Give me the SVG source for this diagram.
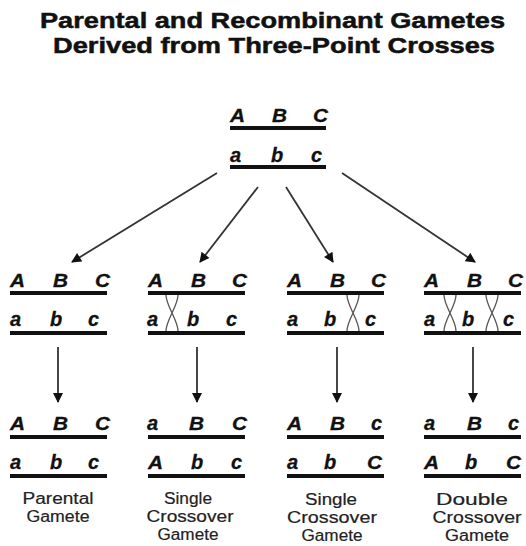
<svg xmlns="http://www.w3.org/2000/svg" width="526" height="546" viewBox="0 0 526 546">
<defs>
<style>
.title{font-family:"Liberation Sans",Arial,sans-serif;font-weight:bold;font-size:22px;fill:#111;stroke:#111;stroke-width:0.5}
.al{font-family:"Liberation Sans",Arial,sans-serif;font-weight:bold;font-style:italic;font-size:18px;fill:#111;stroke:#111;stroke-width:0.3}
.lo{font-size:20px}
.lbl{font-family:"Liberation Sans",Arial,sans-serif;font-size:16px;fill:#222;text-anchor:middle;stroke:#222;stroke-width:0.2}
.chr{stroke:#111;stroke-width:4;fill:none}
.co{stroke:#555;stroke-width:1.3;fill:none}
.arr{stroke:#333;stroke-width:1.8;fill:none;marker-end:url(#ah)}
</style>
<marker id="ah" viewBox="0 0 10 10" refX="9" refY="5" markerWidth="12" markerHeight="10" markerUnits="userSpaceOnUse" orient="auto">
<path d="M0,0 L10,5 L0,10 z" fill="#111"/>
</marker>
</defs>
<rect width="526" height="546" fill="#fff"/>
<g id="title">
<text class="title" x="40" y="28" textLength="465" lengthAdjust="spacingAndGlyphs">Parental and Recombinant Gametes</text>
<text class="title" x="53" y="53" textLength="442" lengthAdjust="spacingAndGlyphs">Derived from Three-Point Crosses</text>
</g>
<g id="connectors">
<line class="arr" x1="217" y1="173" x2="72" y2="262"/>
<line class="arr" x1="258" y1="187" x2="200" y2="262"/>
<line class="arr" x1="286" y1="187" x2="333" y2="262"/>
<line class="arr" x1="342" y1="173" x2="475" y2="262"/>
<line class="arr" x1="58" y1="347" x2="58" y2="402"/>
<line class="arr" x1="197" y1="347" x2="197" y2="402"/>
<line class="arr" x1="337" y1="347" x2="337" y2="402"/>
<line class="arr" x1="473" y1="347" x2="473" y2="402"/>
</g>
<g id="parent">
<text class="al" x="230" y="122" textLength="15" lengthAdjust="spacingAndGlyphs">A</text>
<text class="al" x="272" y="122" textLength="15" lengthAdjust="spacingAndGlyphs">B</text>
<text class="al" x="313" y="122" textLength="15" lengthAdjust="spacingAndGlyphs">C</text>
<line class="chr" x1="230" y1="128" x2="326" y2="128"/>
<text class="al lo" x="230" y="162">a</text>
<text class="al lo" x="271" y="162">b</text>
<text class="al lo" x="311" y="162">c</text>
<line class="chr" x1="230" y1="167" x2="326" y2="167"/>
</g>
<g id="cross1">
<text class="al" x="10" y="287" textLength="15" lengthAdjust="spacingAndGlyphs">A</text>
<text class="al" x="53" y="287" textLength="15" lengthAdjust="spacingAndGlyphs">B</text>
<text class="al" x="95" y="287" textLength="15" lengthAdjust="spacingAndGlyphs">C</text>
<line class="chr" x1="10" y1="293" x2="107" y2="293"/>
<text class="al lo" x="10" y="326">a</text>
<text class="al lo" x="50" y="326">b</text>
<text class="al lo" x="88" y="326">c</text>
<line class="chr" x1="10" y1="333" x2="107" y2="333"/>
</g>
<g id="cross2">
<text class="al" x="148" y="287" textLength="15" lengthAdjust="spacingAndGlyphs">A</text>
<text class="al" x="191" y="287" textLength="15" lengthAdjust="spacingAndGlyphs">B</text>
<text class="al" x="232" y="287" textLength="15" lengthAdjust="spacingAndGlyphs">C</text>
<line class="chr" x1="148" y1="293" x2="245" y2="293"/>
<path class="co" d="M166,295 C166,306 178,320 178,331 M178,295 C178,306 166,320 166,331"/>
<text class="al lo" x="147" y="326">a</text>
<text class="al lo" x="187" y="326">b</text>
<text class="al lo" x="226" y="326">c</text>
<line class="chr" x1="148" y1="333" x2="245" y2="333"/>
</g>
<g id="cross3">
<text class="al" x="287" y="287" textLength="15" lengthAdjust="spacingAndGlyphs">A</text>
<text class="al" x="330" y="287" textLength="15" lengthAdjust="spacingAndGlyphs">B</text>
<text class="al" x="371" y="287" textLength="15" lengthAdjust="spacingAndGlyphs">C</text>
<line class="chr" x1="287" y1="293" x2="384" y2="293"/>
<path class="co" d="M347,295 C347,306 359,320 359,331 M359,295 C359,306 347,320 347,331"/>
<text class="al lo" x="287" y="326">a</text>
<text class="al lo" x="324" y="326">b</text>
<text class="al lo" x="365" y="326">c</text>
<line class="chr" x1="287" y1="333" x2="384" y2="333"/>
</g>
<g id="cross4">
<text class="al" x="424" y="287" textLength="15" lengthAdjust="spacingAndGlyphs">A</text>
<text class="al" x="467" y="287" textLength="15" lengthAdjust="spacingAndGlyphs">B</text>
<text class="al" x="508" y="287" textLength="15" lengthAdjust="spacingAndGlyphs">C</text>
<line class="chr" x1="424" y1="293" x2="521" y2="293"/>
<path class="co" d="M444,295 C444,306 456,320 456,331 M456,295 C456,306 444,320 444,331"/>
<path class="co" d="M486,295 C486,306 498,320 498,331 M498,295 C498,306 486,320 486,331"/>
<text class="al lo" x="424" y="326">a</text>
<text class="al lo" x="462" y="326">b</text>
<text class="al lo" x="503" y="326">c</text>
<line class="chr" x1="424" y1="333" x2="521" y2="333"/>
</g>
<g id="gamete1">
<text class="al" x="10" y="430" textLength="15" lengthAdjust="spacingAndGlyphs">A</text>
<text class="al" x="53" y="430" textLength="15" lengthAdjust="spacingAndGlyphs">B</text>
<text class="al" x="95" y="430" textLength="15" lengthAdjust="spacingAndGlyphs">C</text>
<line class="chr" x1="10" y1="437" x2="107" y2="437"/>
<text class="al lo" x="10" y="469">a</text>
<text class="al lo" x="50" y="469">b</text>
<text class="al lo" x="88" y="469">c</text>
<line class="chr" x1="10" y1="476" x2="107" y2="476"/>
<text class="lbl" x="58" y="504" textLength="71" lengthAdjust="spacingAndGlyphs">Parental</text>
<text class="lbl" x="58" y="522" textLength="63" lengthAdjust="spacingAndGlyphs">Gamete</text>
</g>
<g id="gamete2">
<text class="al lo" x="147" y="430">a</text>
<text class="al" x="189" y="430" textLength="15" lengthAdjust="spacingAndGlyphs">B</text>
<text class="al" x="232" y="430" textLength="15" lengthAdjust="spacingAndGlyphs">C</text>
<line class="chr" x1="148" y1="437" x2="245" y2="437"/>
<text class="al" x="148" y="469" textLength="15" lengthAdjust="spacingAndGlyphs">A</text>
<text class="al lo" x="191" y="469">b</text>
<text class="al lo" x="231" y="469">c</text>
<line class="chr" x1="148" y1="476" x2="245" y2="476"/>
<text class="lbl" x="188" y="504" textLength="48" lengthAdjust="spacingAndGlyphs">Single</text>
<text class="lbl" x="190" y="522" textLength="87" lengthAdjust="spacingAndGlyphs">Crossover</text>
<text class="lbl" x="188" y="540" textLength="61" lengthAdjust="spacingAndGlyphs">Gamete</text>
</g>
<g id="gamete3">
<text class="al" x="287" y="430" textLength="15" lengthAdjust="spacingAndGlyphs">A</text>
<text class="al" x="330" y="430" textLength="15" lengthAdjust="spacingAndGlyphs">B</text>
<text class="al lo" x="371" y="430">c</text>
<line class="chr" x1="287" y1="437" x2="384" y2="437"/>
<text class="al lo" x="287" y="469">a</text>
<text class="al lo" x="324" y="469">b</text>
<text class="al" x="367" y="469" textLength="15" lengthAdjust="spacingAndGlyphs">C</text>
<line class="chr" x1="287" y1="476" x2="384" y2="476"/>
<text class="lbl" x="331" y="505" textLength="52" lengthAdjust="spacingAndGlyphs">Single</text>
<text class="lbl" x="332" y="523" textLength="90" lengthAdjust="spacingAndGlyphs">Crossover</text>
<text class="lbl" x="332" y="541" textLength="61" lengthAdjust="spacingAndGlyphs">Gamete</text>
</g>
<g id="gamete4">
<text class="al lo" x="424" y="430">a</text>
<text class="al" x="467" y="430" textLength="15" lengthAdjust="spacingAndGlyphs">B</text>
<text class="al lo" x="508" y="430">c</text>
<line class="chr" x1="424" y1="437" x2="521" y2="437"/>
<text class="al" x="424" y="469" textLength="15" lengthAdjust="spacingAndGlyphs">A</text>
<text class="al lo" x="465" y="469">b</text>
<text class="al" x="506" y="469" textLength="15" lengthAdjust="spacingAndGlyphs">C</text>
<line class="chr" x1="424" y1="476" x2="521" y2="476"/>
<text class="lbl" x="472" y="505" textLength="72" lengthAdjust="spacingAndGlyphs">Double</text>
<text class="lbl" x="477" y="523" textLength="89" lengthAdjust="spacingAndGlyphs">Crossover</text>
<text class="lbl" x="477" y="541" textLength="64" lengthAdjust="spacingAndGlyphs">Gamete</text>
</g>
</svg>
